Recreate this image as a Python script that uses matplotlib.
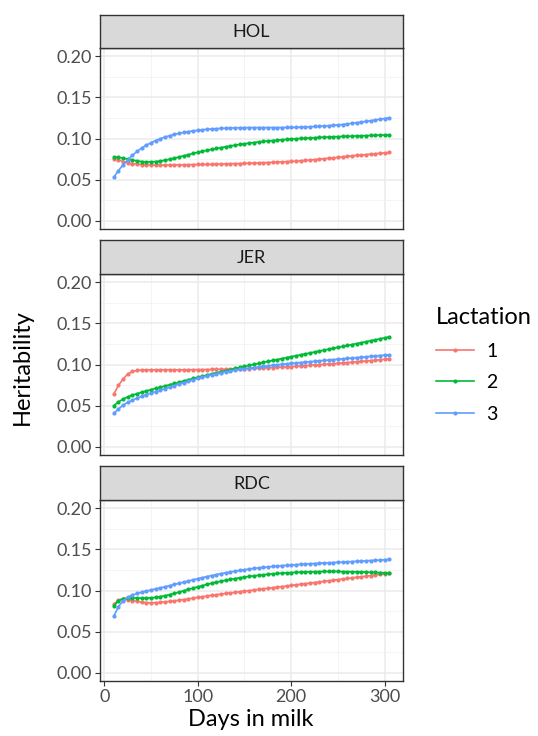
import numpy as np
import matplotlib
matplotlib.use('Agg')
import matplotlib.pyplot as plt
from matplotlib.lines import Line2D

plt.rcParams['font.family'] = ['Lato', 'DejaVu Sans']

# ---------------------------------------------------------------------
#                          data
# ---------------------------------------------------------------------

days = list(range(10, 306, 5))      # days in milk, 60 points

breeds = ['HOL', 'JER', 'RDC']
lactations = ['1', '2', '3']
colors = ['#F8766D', '#00BA38', '#619CFF']

hol_1 = [0.0750, 0.0740, 0.0720, 0.0705, 0.0695, 0.0688, 0.0683, 0.0680, 0.0678, 0.0677,
         0.0677, 0.0677, 0.0678, 0.0679, 0.0680, 0.0681, 0.0682, 0.0683, 0.0684, 0.0685,
         0.0686, 0.0687, 0.0689, 0.0690, 0.0692, 0.0693, 0.0695, 0.0696, 0.0698, 0.0700,
         0.0702, 0.0704, 0.0706, 0.0708, 0.0710, 0.0713, 0.0716, 0.0719, 0.0722, 0.0724,
         0.0729, 0.0734, 0.0739, 0.0744, 0.0749, 0.0754, 0.0760, 0.0765, 0.0771, 0.0777,
         0.0783, 0.0788, 0.0794, 0.0799, 0.0804, 0.0810, 0.0815, 0.0820, 0.0825, 0.0830]
hol_2 = [0.0775, 0.0772, 0.0762, 0.0750, 0.0738, 0.0727, 0.0720, 0.0715, 0.0716, 0.0720,
         0.0727, 0.0736, 0.0748, 0.0762, 0.0776, 0.0790, 0.0804, 0.0818, 0.0832, 0.0845,
         0.0857, 0.0868, 0.0879, 0.0890, 0.0900, 0.0910, 0.0919, 0.0928, 0.0936, 0.0944,
         0.0951, 0.0958, 0.0964, 0.0970, 0.0975, 0.0980, 0.0985, 0.0989, 0.0993, 0.0997,
         0.1001, 0.1004, 0.1007, 0.1010, 0.1013, 0.1016, 0.1018, 0.1021, 0.1023, 0.1025,
         0.1027, 0.1029, 0.1031, 0.1033, 0.1035, 0.1037, 0.1039, 0.1041, 0.1043, 0.1045]
hol_3 = [0.0530, 0.0610, 0.0680, 0.0740, 0.0795, 0.0845, 0.0885, 0.0920, 0.0950, 0.0975,
         0.0998, 0.1018, 0.1035, 0.1050, 0.1063, 0.1074, 0.1084, 0.1093, 0.1100, 0.1106,
         0.1112, 0.1116, 0.1120, 0.1123, 0.1126, 0.1128, 0.1130, 0.1131, 0.1132, 0.1133,
         0.1133, 0.1133, 0.1133, 0.1133, 0.1133, 0.1133, 0.1133, 0.1134, 0.1135, 0.1136,
         0.1138, 0.1140, 0.1143, 0.1146, 0.1148, 0.1152, 0.1156, 0.1160, 0.1165, 0.1170,
         0.1177, 0.1184, 0.1192, 0.1200, 0.1208, 0.1216, 0.1225, 0.1234, 0.1243, 0.1252]

jer_1 = [0.0640, 0.0745, 0.0825, 0.0885, 0.0915, 0.0928, 0.0933, 0.0935, 0.0936, 0.0936,
         0.0936, 0.0936, 0.0936, 0.0936, 0.0936, 0.0936, 0.0937, 0.0937, 0.0938, 0.0938,
         0.0939, 0.0940, 0.0941, 0.0942, 0.0943, 0.0944, 0.0946, 0.0947, 0.0949, 0.0951,
         0.0953, 0.0955, 0.0958, 0.0960, 0.0963, 0.0966, 0.0969, 0.0972, 0.0975, 0.0979,
         0.0982, 0.0986, 0.0990, 0.0994, 0.0998, 0.1002, 0.1006, 0.1010, 0.1014, 0.1019,
         0.1023, 0.1028, 0.1033, 0.1038, 0.1043, 0.1048, 0.1053, 0.1058, 0.1063, 0.1068]
jer_2 = [0.0500, 0.0545, 0.0580, 0.0607, 0.0628, 0.0646, 0.0663, 0.0679, 0.0695, 0.0710,
         0.0725, 0.0740, 0.0755, 0.0770, 0.0785, 0.0800, 0.0815, 0.0830, 0.0844, 0.0858,
         0.0872, 0.0886, 0.0900, 0.0913, 0.0926, 0.0939, 0.0952, 0.0965, 0.0977, 0.0989,
         0.1001, 0.1013, 0.1025, 0.1037, 0.1049, 0.1060, 0.1072, 0.1084, 0.1095, 0.1106,
         0.1118, 0.1129, 0.1140, 0.1152, 0.1163, 0.1174, 0.1186, 0.1197, 0.1208, 0.1219,
         0.1231, 0.1242, 0.1254, 0.1265, 0.1277, 0.1288, 0.1300, 0.1312, 0.1324, 0.1336]
jer_3 = [0.0405, 0.0460, 0.0505, 0.0540, 0.0568, 0.0592, 0.0614, 0.0634, 0.0653, 0.0671,
         0.0689, 0.0707, 0.0725, 0.0743, 0.0761, 0.0779, 0.0797, 0.0814, 0.0831, 0.0847,
         0.0862, 0.0876, 0.0889, 0.0901, 0.0912, 0.0922, 0.0931, 0.0940, 0.0948, 0.0956,
         0.0963, 0.0970, 0.0977, 0.0984, 0.0990, 0.0996, 0.1002, 0.1008, 0.1014, 0.1019,
         0.1024, 0.1029, 0.1034, 0.1039, 0.1044, 0.1049, 0.1054, 0.1059, 0.1064, 0.1069,
         0.1074, 0.1079, 0.1084, 0.1089, 0.1094, 0.1099, 0.1104, 0.1109, 0.1114, 0.1119]

rdc_1 = [0.0830, 0.0885, 0.0895, 0.0888, 0.0878, 0.0868, 0.0859, 0.0853, 0.0851, 0.0852,
         0.0856, 0.0862, 0.0868, 0.0875, 0.0882, 0.0890, 0.0899, 0.0907, 0.0916, 0.0924,
         0.0933, 0.0941, 0.0949, 0.0957, 0.0964, 0.0971, 0.0978, 0.0985, 0.0992, 0.0999,
         0.1006, 0.1013, 0.1020, 0.1027, 0.1034, 0.1041, 0.1048, 0.1055, 0.1062, 0.1069,
         0.1076, 0.1083, 0.1090, 0.1097, 0.1104, 0.1111, 0.1118, 0.1125, 0.1132, 0.1139,
         0.1146, 0.1153, 0.1160, 0.1167, 0.1174, 0.1181, 0.1188, 0.1195, 0.1202, 0.1209]
rdc_2 = [0.0815, 0.0875, 0.0902, 0.0909, 0.0910, 0.0908, 0.0907, 0.0908, 0.0911, 0.0917,
         0.0926, 0.0937, 0.0951, 0.0966, 0.0981, 0.0997, 0.1013, 0.1029, 0.1045, 0.1060,
         0.1075, 0.1089, 0.1102, 0.1114, 0.1125, 0.1135, 0.1145, 0.1154, 0.1163, 0.1171,
         0.1178, 0.1185, 0.1191, 0.1197, 0.1202, 0.1207, 0.1211, 0.1215, 0.1218, 0.1221,
         0.1224, 0.1226, 0.1228, 0.1229, 0.1230, 0.1231, 0.1231, 0.1231, 0.1231, 0.1230,
         0.1229, 0.1228, 0.1227, 0.1226, 0.1224, 0.1222, 0.1220, 0.1218, 0.1216, 0.1213]
rdc_3 = [0.0686, 0.0805, 0.0875, 0.0918, 0.0945, 0.0964, 0.0980, 0.0994, 0.1007, 0.1020,
         0.1033, 0.1046, 0.1060, 0.1074, 0.1088, 0.1102, 0.1116, 0.1130, 0.1144, 0.1157,
         0.1170, 0.1182, 0.1194, 0.1205, 0.1216, 0.1226, 0.1236, 0.1245, 0.1253, 0.1261,
         0.1268, 0.1275, 0.1281, 0.1287, 0.1292, 0.1297, 0.1302, 0.1306, 0.1310, 0.1314,
         0.1318, 0.1321, 0.1325, 0.1328, 0.1331, 0.1334, 0.1337, 0.1340, 0.1343, 0.1346,
         0.1349, 0.1352, 0.1355, 0.1358, 0.1361, 0.1364, 0.1367, 0.1370, 0.1374, 0.1378]

series = {'HOL': [hol_1, hol_2, hol_3],
          'JER': [jer_1, jer_2, jer_3],
          'RDC': [rdc_1, rdc_2, rdc_3]}

y_ticks = [0.00, 0.05, 0.10, 0.15, 0.20]
y_labels = ['0.00', '0.05', '0.10', '0.15', '0.20']
x_ticks = [0, 100, 200, 300]

# ---------------------------------------------------------------------
#                          figure
# ---------------------------------------------------------------------

W, H = 538, 736
fig = plt.figure(figsize=(W / 100, H / 100), dpi=100)

GRID = '#EBEBEB'
BORDER = '#333333'
TICKTXT = '#4D4D4D'

panel_px = [(48, 229, 15), (274, 455, 240), (500, 681, 466)]   # plot top, plot bottom, strip top
left_px, right_px = 100, 403

for k, breed in enumerate(breeds):
    top, bot, stop = panel_px[k]
    ax = fig.add_axes([left_px / W, 1 - bot / H, (right_px - left_px) / W, (bot - top) / H])
    sax = fig.add_axes([left_px / W, 1 - top / H, (right_px - left_px) / W, (top - stop) / H])

    for j, vals in enumerate(series[breed]):
        ax.plot(days, vals, color=colors[j], lw=1.2, marker='o', ms=3.0,
                markeredgewidth=0, zorder=3)

    ax.set_xlim(-4.75, 319.75)
    ax.set_ylim(-0.01, 0.21)
    ax.set_yticks(y_ticks)
    ax.set_yticklabels(y_labels)
    ax.set_yticks([0.025, 0.075, 0.125, 0.175], minor=True)
    ax.set_xticks(x_ticks)
    ax.set_xticks([50, 150, 250], minor=True)
    ax.grid(True, which='major', color=GRID, lw=1.1, zorder=0)
    ax.grid(True, which='minor', color='#F2F2F2', lw=0.6, zorder=0)
    ax.set_axisbelow(True)
    ax.tick_params(which='minor', length=0)
    ax.tick_params(which='major', length=3.5, width=0.8, color=BORDER,
                   labelsize=13, labelcolor=TICKTXT, pad=2)
    if k < 2:
        ax.tick_params(axis='x', which='major', length=0, labelbottom=False)
    for sp in ax.spines.values():
        sp.set_color(BORDER)
        sp.set_linewidth(1.0)

    sax.set_facecolor('#D9D9D9')
    sax.set_xticks([])
    sax.set_yticks([])
    for sp in sax.spines.values():
        sp.set_color(BORDER)
        sp.set_linewidth(1.0)
    sax.text(0.5, 0.47, breed, ha='center', va='center', fontsize=13,
             color='#1A1A1A', transform=sax.transAxes)

fig.text(251 / W, 1 - 720 / H, 'Days in milk', ha='center', va='center', fontsize=17)
fig.text(22 / W, 1 - 367 / H, 'Heritability', ha='center', va='center',
         rotation=90, fontsize=17)

handles = [Line2D([0], [0], color=c, lw=1.2, marker='o', ms=3.0, markeredgewidth=0)
           for c in colors]
fig.legend(handles, lactations, title='Lactation', loc='center left',
           bbox_to_anchor=(418 / W, 1 - 365 / H), frameon=False, fontsize=14,
           title_fontsize=17, handlelength=2.0, labelspacing=0.75,
           handletextpad=0.6, alignment='left')

fig.savefig('out.png', dpi=100)
